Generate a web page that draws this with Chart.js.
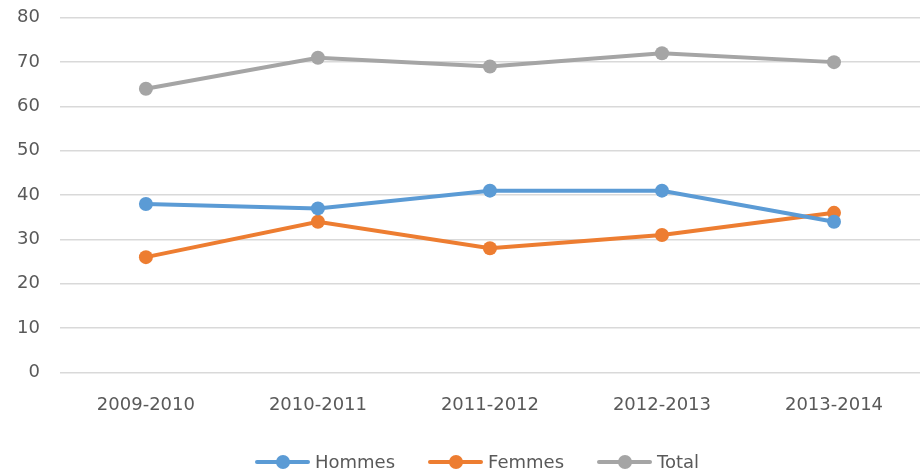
<!DOCTYPE html>
<html>
<head>
<meta charset="utf-8">
<script src="https://cdn.jsdelivr.net/npm/chart.js@4"></script>
<style>
  body { margin: 0; background: #fff; }
  #wrap { position: relative; width: 920px; height: 471px; overflow: hidden; }
  #chart { position: absolute; left: 0; top: -13px; }
  #legend {
    position: absolute; left: 255px; top: 451px;
    display: flex; align-items: center;
    font-family: "DejaVu Sans", sans-serif; font-size: 18px; color: #595959;
  }
  .item { display: flex; align-items: center; margin-right: 33px; }
  .swatch { position: relative; width: 55px; height: 14px; margin-right: 5px; }
  .swatch .ln { position: absolute; left: 0; right: 0; top: 5px; height: 4px; border-radius: 2px; }
  .swatch .pt { position: absolute; left: 21px; top: 0; width: 14px; height: 14px; border-radius: 50%; }
</style>
</head>
<body>
<div id="wrap">
  <canvas id="chart" width="920" height="484"></canvas>
  <div id="legend"></div>
</div>
<script>
// Données du graphique
const saisons = ['2009-2010', '2010-2011', '2011-2012', '2012-2013', '2013-2014'];
const hommes = [38, 37, 41, 41, 34];
const femmes = [26, 34, 28, 31, 36];
const total = [64, 71, 69, 72, 70];
const seriesNames = ['Hommes', 'Femmes', 'Total'];
const seriesColors = ['#5B9BD5', '#ED7D31', '#A5A5A5'];
const yTicks = [0, 10, 20, 30, 40, 50, 60, 70, 80];

function makeDataset(label, data, color) {
    return {
        label: label,
        data: data,
        borderColor: color,
        backgroundColor: color,
        borderWidth: 4,
        pointRadius: 7,
        pointBorderWidth: 0,
        pointHoverRadius: 7,
        tension: 0,
        clip: false
    };
}

// Légende HTML (ligne + point comme dans Excel)
function buildLegend() {
    const legend = document.getElementById('legend');
    seriesNames.forEach((name, i) => {
        const item = document.createElement('div');
        item.className = 'item';
        item.innerHTML = '<div class="swatch"><div class="ln" style="background:' + seriesColors[i] +
            '"></div><div class="pt" style="background:' + seriesColors[i] + '"></div></div><span>' + name + '</span>';
        legend.appendChild(item);
    });
}

const ctx = document.getElementById('chart').getContext('2d');
new Chart(ctx, {
    type: 'line',
    data: {
        labels: saisons,
        datasets: [
            makeDataset(seriesNames[0], hommes, seriesColors[0]),
            makeDataset(seriesNames[1], femmes, seriesColors[1]),
            makeDataset(seriesNames[2], total, seriesColors[2])
        ]
    },
    options: {
        responsive: false,
        animation: false,
        layout: { autoPadding: false, padding: { left: -3, right: -4, top: -6, bottom: 33 } },
        plugins: {
            legend: { display: false },
            tooltip: { enabled: false }
        },
        scales: {
            x: {
                offset: true,
                grid: { display: false, drawTicks: false },
                border: { display: false },
                ticks: {
                    padding: 22,
                    color: '#595959',
                    font: { family: 'DejaVu Sans', size: 18 }
                }
            },
            y: {
                min: yTicks[0],
                max: yTicks[yTicks.length - 1],
                afterBuildTicks: axis => { axis.ticks = yTicks.map(v => ({ value: v })); },
                grid: { color: '#D9D9D9', lineWidth: 1.5, drawTicks: false },
                border: { display: false },
                ticks: {
                    padding: 20,
                    color: '#595959',
                    font: { family: 'DejaVu Sans', size: 18 }
                }
            }
        }
    }
});

buildLegend();
</script>
</body>
</html>
